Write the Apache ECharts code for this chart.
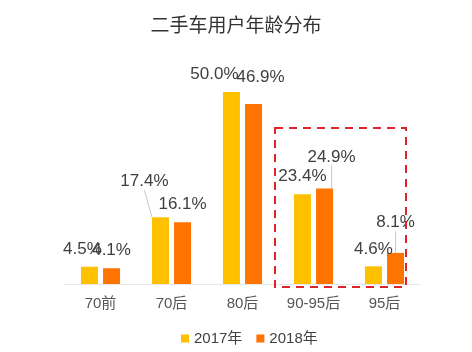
<!DOCTYPE html>
<html>
<head>
<meta charset="utf-8">
<script src="https://cdn.jsdelivr.net/npm/echarts@6/dist/echarts.min.js"></script>
<style>
  html, body { margin: 0; padding: 0; background: #fff; }
  #main { width: 472px; height: 352px; }
</style>
</head>
<body>
<div id="main"></div>
<script>
// 数据
let categories = ['70前', '70后', '80后', '90-95后', '95后']
let years = ['2017年', '2018年']
let data2017 = [4.5, 17.4, 50.0, 23.4, 4.6]
let data2018 = [4.1, 16.1, 46.9, 24.9, 8.1]

// 标签偏移 (避免重叠), 第三项: 是否画引导线
let shift2017 = [[-7, 0, 0], [-16, -18, 1], [-17, 0, 0], [0, 0, 0], [0, 0, 0]]
let shift2018 = [[0, 0, 0], [0, 0, 0], [7, -9, 0], [7, -14, 1], [0, -13, 1]]

let font = 'Liberation Sans, Arial, Noto Sans CJK SC, sans-serif'

let chart = echarts.init(document.getElementById('main'))

function barSeries (name, data, color, shift) {
  return {
    name: name,
    type: 'bar',
    barWidth: 17,
    barGap: '30%',
    data: data.map((v, i) => ({
      value: v,
      labelLine: { show: !!shift[i][2] }
    })),
    itemStyle: { color: color },
    label: {
      show: true,
      position: 'top',
      distance: 9,
      fontSize: 17,
      fontFamily: font,
      color: '#404040',
      formatter: p => p.value.toFixed(1) + '%'
    },
    labelLine: {
      lineStyle: { color: '#c8c8c8', width: 1 }
    },
    labelLayout: p => ({ dx: shift[p.dataIndex][0], dy: shift[p.dataIndex][1] })
  }
}

let option = {
  animation: false,
  title: {
    text: '二手车用户年龄分布',
    left: 'center',
    top: 10,
    textStyle: {
      fontSize: 19,
      fontWeight: 'normal',
      color: '#333',
      fontFamily: 'Noto Sans CJK SC, sans-serif'
    }
  },
  legend: {
    data: years,
    left: 176,
    top: 326,
    icon: 'rect',
    itemWidth: 8,
    itemHeight: 8,
    itemGap: 14,
    textStyle: { fontSize: 15, color: '#404040', fontFamily: font }
  },
  grid: { left: 65, right: 52, top: 92, bottom: 68 },
  xAxis: {
    type: 'category',
    data: categories,
    axisLine: { lineStyle: { color: '#e8e8e8' } },
    axisTick: { show: false },
    axisLabel: { margin: 12, fontSize: 15, color: '#555', fontFamily: font }
  },
  yAxis: {
    type: 'value',
    min: 0,
    max: 50,
    show: false
  },
  graphic: [{
    type: 'rect',
    shape: { x: 275, y: 128, width: 131, height: 159 },
    style: { fill: null, stroke: '#e0242b', lineWidth: 2, lineDash: [8, 6] },
    z: 100
  }],
  series: [
    barSeries(years[0], data2017, '#ffc000', shift2017),
    barSeries(years[1], data2018, '#ff7300', shift2018)
  ]
}
chart.setOption(option)
</script>
</body>
</html>
